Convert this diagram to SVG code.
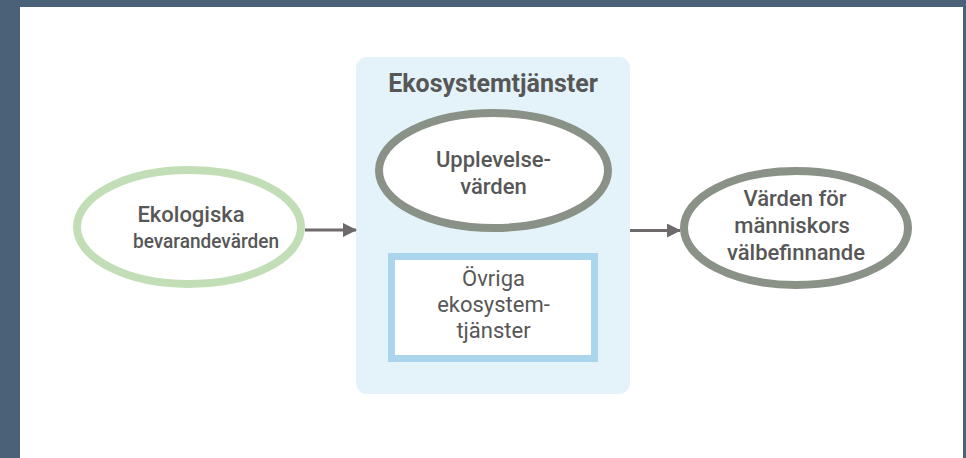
<svg xmlns="http://www.w3.org/2000/svg" width="966" height="458" viewBox="0 0 966 458">
  <style>
    .t { font-family: Roboto, "Liberation Sans", sans-serif; font-size: 22px; fill: #575757; text-anchor: middle; }
    .m { font-weight: 500; }
    .b { font-weight: 700; font-size: 25px; }
    .conn { stroke: #6e6a6b; stroke-width: 3; fill: none; }
  </style>
  <defs>
    <marker id="arrow" viewBox="0 0 14 14" refX="13" refY="7" markerWidth="14" markerHeight="14" markerUnits="userSpaceOnUse" orient="auto">
      <path d="M0,0 L14,7 L0,14 Z" fill="#6e6a6b"/>
    </marker>
  </defs>
  <rect x="0" y="0" width="966" height="458" fill="#4a6177"/>
  <rect x="20" y="7" width="943" height="451" fill="#ffffff"/>

  <g id="ekosystemtjanster">
    <rect x="356" y="57" width="274" height="337" rx="11" fill="#e4f3f9"/>
    <text class="t b" x="493" y="92">Ekosystemtjänster</text>
  </g>

  <g id="upplevelsevarden">
    <ellipse cx="493.5" cy="170.5" rx="114.5" ry="57.5" fill="#ffffff" stroke="#8a9186" stroke-width="8"/>
    <text class="t m" x="493.5" y="167">Upplevelse-</text>
    <text class="t m" x="493.5" y="194">värden</text>
  </g>

  <g id="ovriga">
    <rect x="391.5" y="256.5" width="203" height="102" fill="#ffffff" stroke="#aad5ec" stroke-width="7"/>
    <text class="t" x="493.5" y="286">Övriga</text>
    <text class="t" x="493.5" y="312">ekosystem-</text>
    <text class="t" x="493.5" y="338">tjänster</text>
  </g>

  <g id="ekologiska">
    <ellipse cx="189" cy="227" rx="112" ry="57" fill="#ffffff" stroke="#c2deb6" stroke-width="8"/>
    <text class="t m" x="191" y="222">Ekologiska</text>
    <text class="t m" x="206" y="248" style="font-size:20.5px" textLength="146" lengthAdjust="spacingAndGlyphs">bevarandevärden</text>
  </g>

  <g id="manniskor">
    <ellipse cx="796" cy="228" rx="112" ry="57" fill="#ffffff" stroke="#8a9186" stroke-width="8"/>
    <text class="t m" x="795" y="206">Värden för</text>
    <text class="t m" x="792" y="233">människors</text>
    <text class="t m" x="796" y="260">välbefinnande</text>
  </g>

  <g id="connectors">
    <line class="conn" x1="305" y1="230" x2="356" y2="230" marker-end="url(#arrow)"/>
    <line class="conn" x1="630" y1="230.5" x2="680" y2="230.5" marker-end="url(#arrow)"/>
  </g>
</svg>
